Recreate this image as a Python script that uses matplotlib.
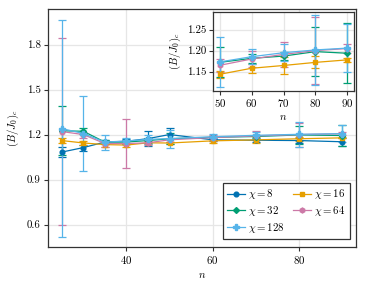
import matplotlib
matplotlib.use("Agg")
import matplotlib.pyplot as plt
import numpy as np

plt.rcParams['font.family'] = 'serif'
plt.rcParams['font.serif'] = ['cmr10']
plt.rcParams['mathtext.fontset'] = 'cm'
plt.rcParams['axes.formatter.use_mathtext'] = True

n = [25, 30, 35, 40, 45, 50, 60, 70, 80, 90]
chis = [8, 16, 32, 64, 128]

b8 = [1.083, 1.113, 1.150, 1.155, 1.173, 1.200, 1.165, 1.162, 1.160, 1.152]
e8 = [0.035, 0.020, 0.015, 0.015, 0.050, 0.047, 0.010, 0.010, 0.015, 0.025]
b16 = [1.160, 1.144, 1.133, 1.130, 1.145, 1.1436, 1.158, 1.1646, 1.172, 1.178]
e16 = [0.015, 0.015, 0.015, 0.015, 0.010, 0.008, 0.011, 0.020, 0.014, 0.004]
b32 = [1.225, 1.222, 1.150, 1.150, 1.160, 1.172, 1.1816, 1.187, 1.1976, 1.1937]
e32 = [0.164, 0.020, 0.015, 0.015, 0.015, 0.036, 0.010, 0.010, 0.058, 0.071]
b64 = [1.220, 1.200, 1.140, 1.140, 1.145, 1.165, 1.180, 1.191, 1.200, 1.205]
e64 = [0.623, 0.020, 0.020, 0.165, 0.015, 0.015, 0.020, 0.030, 0.080, 0.010]
b128 = [1.240, 1.207, 1.150, 1.157, 1.168, 1.173, 1.1855, 1.195, 1.2016, 1.206]
e128 = [0.725, 0.250, 0.050, 0.020, 0.030, 0.060, 0.018, 0.020, 0.084, 0.058]

vals = [b8, b16, b32, b64, b128]
errs = [e8, e16, e32, e64, e128]
colors = ['#0072B2', '#E69F00', '#009E73', '#CC79A7', '#56B4E9']
markers = ['o', 's', 'D', 'h', 'P']
msizes = [3.4, 3.2, 3.0, 3.6, 4.0]

fig = plt.figure(figsize=(3.66, 2.92), dpi=100)
ax = fig.add_axes([0.1303, 0.153, 0.8424, 0.815])

fs = 7.8
handles = []
for c, v, e, col, m, ms in zip(chis, vals, errs, colors, markers, msizes):
    h = ax.errorbar(n, v, yerr=e, color=col, marker=m, markersize=ms, lw=0.9,
                    elinewidth=0.9, capsize=2.8, capthick=0.9,
                    label=r'$\chi = %d$' % c)
    handles.append(h[0])

ax.set_xlim(21.75, 93.25)
ax.set_ylim(0.448, 2.035)
ax.set_xticks([40, 60, 80])
ax.set_yticks([0.6, 0.9, 1.2, 1.5, 1.8])
ax.set_yticklabels(['0.6', '0.9', '1.2', '1.5', '1.8'])
ax.grid(True, color='#e6e6e6', lw=0.9)
ax.set_axisbelow(True)
ax.tick_params(direction='out', length=3, width=0.8, labelsize=fs, color='#333333', pad=2)
for s in ax.spines.values():
    s.set_color('#333333')
    s.set_linewidth(0.9)
ax.set_xlabel(r'$n$', fontsize=fs, labelpad=3)
ax.set_ylabel(r'$(B/J_0)_c$', fontsize=fs, labelpad=4)

order = [0, 2, 4, 1, 3]
leg = ax.legend([handles[i] for i in order], [r'$\chi = %d$' % chis[i] for i in order],
                ncol=2, loc='lower right', fontsize=fs, frameon=True, fancybox=False,
                edgecolor='#333333', framealpha=1, borderpad=0.4, handlelength=1.6,
                handletextpad=0.3, columnspacing=0.8, labelspacing=0.25,
                bbox_to_anchor=(0.997, 0.012))
leg.get_frame().set_linewidth(0.9)

# inset
axi = fig.add_axes([0.5828, 0.690, 0.3839, 0.2705])
for c, v, e, col, m, ms in zip(chis[1:], vals[1:], errs[1:], colors[1:], markers[1:], msizes[1:]):
    axi.errorbar(n[5:], v[5:], yerr=e[5:], color=col, marker=m, markersize=ms, lw=0.9,
                 elinewidth=0.9, capsize=2.8, capthick=0.9)
axi.set_xlim(48.0, 92.0)
axi.set_ylim(1.105, 1.293)
axi.set_xticks([50, 60, 70, 80, 90])
axi.set_yticks([1.15, 1.20, 1.25])
axi.set_yticklabels(['1.15', '1.20', '1.25'])
axi.grid(True, color='#e6e6e6', lw=0.9)
axi.set_axisbelow(True)
axi.tick_params(direction='out', length=3, width=0.8, labelsize=fs, color='#333333', pad=2)
for s in axi.spines.values():
    s.set_color('#333333')
    s.set_linewidth(0.9)
axi.set_xlabel(r'$n$', fontsize=fs, labelpad=2)
axi.set_ylabel(r'$(B/J_0)_c$', fontsize=fs, labelpad=3)

fig.savefig('out.png', dpi=100)
